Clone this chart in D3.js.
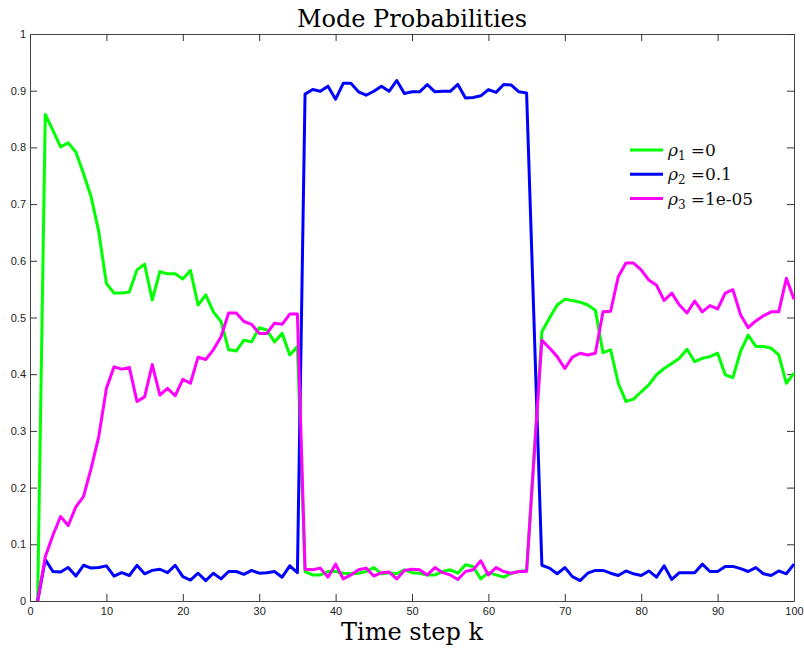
<!DOCTYPE html>
<html>
<head>
<meta charset="utf-8">
<script src="https://cdn.jsdelivr.net/npm/d3@7"></script>
<style>
  body { margin: 0; background: #fff; }
  .tick text { font-family: "Liberation Sans", Arial, sans-serif; font-size: 11px; fill: #222; }
</style>
</head>
<body>
<div id="chart"></div>
<script>
// time steps 1..100
const steps = d3.range(1, 101);

// mode probabilities
const rho1 = [0, 0.858, 0.83, 0.801, 0.808, 0.792, 0.754, 0.713, 0.651, 0.56,
  0.543, 0.543, 0.545, 0.584, 0.594, 0.531, 0.581, 0.577, 0.577, 0.568,
  0.583, 0.522, 0.54, 0.51, 0.493, 0.443, 0.441, 0.46, 0.457, 0.482,
  0.478, 0.457, 0.472, 0.434, 0.449, 0.052, 0.046, 0.046, 0.052, 0.052,
  0.049, 0.048, 0.049, 0.052, 0.059, 0.048, 0.05, 0.048, 0.055, 0.05,
  0.049, 0.046, 0.046, 0.052, 0.055, 0.049, 0.064, 0.061, 0.039, 0.05,
  0.046, 0.042, 0.049, 0.052, 0.054, 0.26, 0.475, 0.499, 0.522, 0.532,
  0.53, 0.527, 0.522, 0.513, 0.438, 0.443, 0.384, 0.352, 0.356, 0.369,
  0.381, 0.399, 0.41, 0.419, 0.428, 0.444, 0.422, 0.428, 0.431, 0.437,
  0.399, 0.394, 0.44, 0.469, 0.449, 0.449, 0.446, 0.434, 0.384, 0.402];

const rho2 = [0, 0.073, 0.052, 0.051, 0.059, 0.044, 0.063, 0.058, 0.059, 0.062,
  0.044, 0.05, 0.045, 0.063, 0.048, 0.054, 0.056, 0.05, 0.063, 0.043,
  0.037, 0.049, 0.036, 0.049, 0.039, 0.052, 0.052, 0.047, 0.054, 0.049,
  0.05, 0.052, 0.042, 0.062, 0.05, 0.894, 0.902, 0.899, 0.908, 0.885,
  0.913, 0.913, 0.898, 0.892, 0.899, 0.908, 0.899, 0.918, 0.895, 0.898,
  0.898, 0.911, 0.898, 0.899, 0.899, 0.911, 0.887, 0.888, 0.891, 0.902,
  0.897, 0.911, 0.91, 0.898, 0.896, 0.48, 0.063, 0.058, 0.048, 0.059,
  0.043, 0.036, 0.049, 0.054, 0.054, 0.049, 0.045, 0.053, 0.048, 0.045,
  0.053, 0.042, 0.062, 0.038, 0.05, 0.05, 0.05, 0.065, 0.052, 0.052,
  0.061, 0.061, 0.057, 0.052, 0.059, 0.048, 0.045, 0.053, 0.048, 0.065];

const rho3 = [0, 0.078, 0.116, 0.149, 0.133, 0.166, 0.184, 0.234, 0.29, 0.375,
  0.413, 0.409, 0.412, 0.352, 0.36, 0.417, 0.363, 0.375, 0.362, 0.391,
  0.384, 0.43, 0.426, 0.443, 0.466, 0.508, 0.508, 0.493, 0.488, 0.472,
  0.472, 0.49, 0.488, 0.506, 0.506, 0.056, 0.055, 0.058, 0.042, 0.065,
  0.039, 0.046, 0.055, 0.058, 0.044, 0.05, 0.051, 0.039, 0.054, 0.056,
  0.055, 0.046, 0.059, 0.05, 0.046, 0.038, 0.052, 0.055, 0.071, 0.046,
  0.059, 0.052, 0.049, 0.052, 0.052, 0.26, 0.46, 0.446, 0.431, 0.41,
  0.43, 0.437, 0.434, 0.437, 0.51, 0.511, 0.572, 0.596, 0.596, 0.584,
  0.566, 0.557, 0.53, 0.543, 0.522, 0.508, 0.529, 0.51, 0.521, 0.515,
  0.543, 0.549, 0.505, 0.482, 0.494, 0.503, 0.51, 0.51, 0.569, 0.532];

const seriesNames = ["\u03c1", "\u03c1", "\u03c1"];
const seriesSubs = ["1", "2", "3"];
const seriesValues = ["=0", "=0.1", "=1e-05"];
const seriesColors = ["#00ff00", "#0000ff", "#ff00ff"];
const xTicks = d3.range(0, 101, 10);
const yTicks = d3.range(0, 1.01, 0.1);

const margin = { top: 34, right: 10, bottom: 51, left: 30 },
    width = 804 - margin.left - margin.right,
    height = 652 - margin.top - margin.bottom;

const svg = d3.select("#chart")
  .append("svg")
    .attr("width", 804)
    .attr("height", 652)
  .append("g")
    .attr("transform", `translate(${margin.left},${margin.top})`);

const x = d3.scaleLinear().domain([0, 100]).range([0, width]);
const y = d3.scaleLinear().domain([0, 1]).range([height, 0]);

// axes, MATLAB style ticks pointing inward
svg.append("g")
  .attr("transform", `translate(0,${height})`)
  .call(d3.axisBottom(x).tickValues(xTicks).tickSizeInner(-7).tickSizeOuter(0).tickPadding(6));
svg.append("g")
  .call(d3.axisLeft(y).tickValues(yTicks).tickSizeInner(-7).tickSizeOuter(0).tickPadding(4)
    .tickFormat(d => d3.format("~g")(+d.toFixed(1))));
svg.append("g")
  .call(d3.axisTop(x).tickValues(xTicks).tickSizeInner(-7).tickSizeOuter(0).tickFormat(""));
svg.append("g")
  .attr("transform", `translate(${width},0)`)
  .call(d3.axisRight(y).tickValues(yTicks).tickSizeInner(-7).tickSizeOuter(0).tickFormat(""));

svg.selectAll(".domain").attr("stroke", "#444");
svg.selectAll(".tick line").attr("stroke", "#333");

const line = d3.line()
  .x((d, i) => x(steps[i]))
  .y(d => y(d));

[rho1, rho2, rho3].forEach((s, i) => {
  svg.append("path")
    .datum(s)
    .attr("fill", "none")
    .attr("stroke", seriesColors[i])
    .attr("stroke-width", 3)
    .attr("stroke-linejoin", "round")
    .attr("d", line);
});

// legend
const legend = svg.append("g").attr("transform", `translate(600,116)`);
seriesColors.forEach((c, i) => {
  const g = legend.append("g").attr("transform", `translate(0,${i * 24.3})`);
  g.append("line").attr("x1", 0).attr("x2", 33).attr("stroke", c).attr("stroke-width", 3);
  const t = g.append("text")
    .attr("x", 38).attr("y", 6)
    .style("font-family", "'DejaVu Serif', serif")
    .style("font-size", "17px")
    .attr("fill", "#111");
  t.append("tspan").style("font-style", "italic").text(seriesNames[i]);
  t.append("tspan").attr("dy", 4).style("font-size", "12px").text(seriesSubs[i]);
  t.append("tspan").attr("dy", -4).attr("dx", 5).text(seriesValues[i]);
});

// title and x label
svg.append("text")
  .attr("x", width / 2).attr("y", -7)
  .attr("text-anchor", "middle")
  .style("font-family", "'DejaVu Serif', serif")
  .style("font-size", "24px")
  .style("font-weight", "300")
  .text("Mode Probabilities");

svg.append("text")
  .attr("x", width / 2).attr("y", height + 39)
  .attr("text-anchor", "middle")
  .style("font-family", "'DejaVu Serif', serif")
  .style("font-size", "24px")
  .text("Time step k");
</script>
</body>
</html>
